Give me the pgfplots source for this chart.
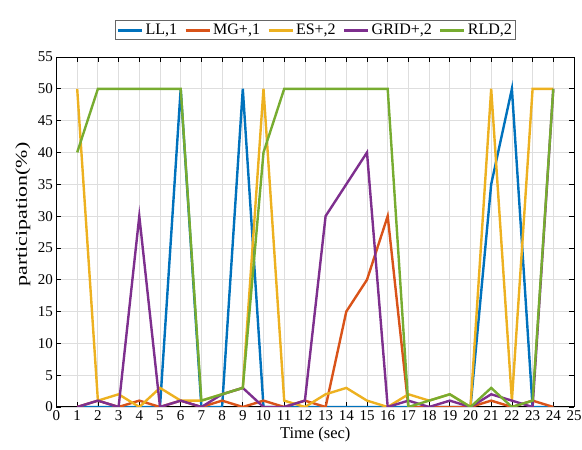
\documentclass[border=0pt]{standalone}
\usepackage{fontspec}
\setmainfont{Liberation Serif}
\usepackage{pgfplots}
\usepackage{pgfplotstable}
\pgfplotsset{compat=1.18}
\definecolor{cLL}{rgb}{0,0.447,0.741}
\definecolor{cMG}{rgb}{0.850,0.325,0.098}
\definecolor{cES}{rgb}{0.929,0.694,0.125}
\definecolor{cGR}{rgb}{0.494,0.184,0.556}
\definecolor{cRL}{rgb}{0.466,0.674,0.188}
\pgfplotstableread{
t LL MG ES GR RL
1 0 0 50 0 40
2 0 1 1 1 50
3 0 0 2 0 50
4 0 1 0 30 50
5 0 0 3 0 50
6 50 1 1 1 50
7 0 0 1 0 1
8 0 1 2 2 2
9 50 0 3 3 3
10 0 1 50 0 40
11 0 0 1 0 50
12 0 1 0 1 50
13 0 0 2 30 50
14 0 15 3 35 50
15 0 20 1 40 50
16 0 30 0 0 50
17 0 0 2 1 0
18 0 0 1 0 1
19 0 0 2 1 2
20 0 0 0 0 0
21 35 1 50 2 3
22 50 0 1 1 0
23 0 1 50 0 1
24 0 0 50 50 50
}\data
\begin{document}
\begin{tikzpicture}
\path[use as bounding box] (-56.5pt,-43pt) rectangle (525.5pt,407pt);
\begin{axis}[
  scale only axis, width=517.5pt, height=350pt,
  xmin=0, xmax=25, ymin=0, ymax=55,
  xtick={0,...,25}, ytick={0,5,...,55},
  grid=major, major grid style={black!13, line width=0.8pt},
  tick align=inside, major tick length=5pt,
  tick style={black, line width=0.7pt},
  axis line style={black, line width=1pt},
  xlabel={Time (sec)},
  ylabel={\scalebox{1.33}[1]{participation(\%)}},
  ylabel style={at={(axis description cs:-0.0647,0.55)}, anchor=center},
  ticklabel style={font=\fontsize{15}{15}\selectfont},
  label style={font=\fontsize{16.5}{18}\selectfont},
  /pgf/number format/assume math mode=true,
  legend columns=5,
  legend style={at={(0.5,1)}, yshift=17pt, anchor=south,
    font=\fontsize{16}{18}\selectfont, draw=black!60, line width=0.8pt,
    inner sep=1.5pt,
    /tikz/every even column/.append style={column sep=5pt}},
  legend image code/.code={\draw[#1,line width=3pt] (0pt,0pt) -- (24pt,0pt);},
]
\addplot[cLL, line width=2.4pt, mark=none] table[x=t,y=LL]{\data};
\addplot[cMG, line width=2.4pt, mark=none] table[x=t,y=MG]{\data};
\addplot[cES, line width=2.4pt, mark=none] table[x=t,y=ES]{\data};
\addplot[cGR, line width=2.4pt, mark=none] table[x=t,y=GR]{\data};
\addplot[cRL, line width=2.4pt, mark=none] table[x=t,y=RL]{\data};
\legend{{LL,1}, {MG+,1}, {ES+,2}, {GRID+,2}, {RLD,2}}
\end{axis}
\end{tikzpicture}
\end{document}
